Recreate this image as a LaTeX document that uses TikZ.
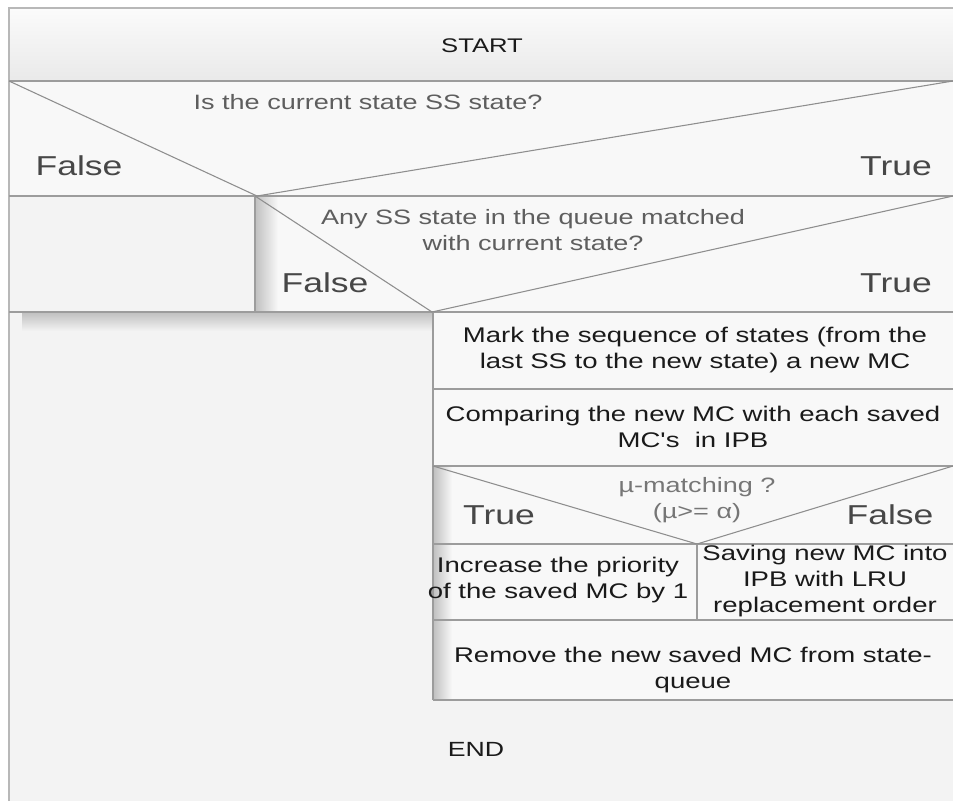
\documentclass[tikz,border=0pt]{standalone}
\usepackage{fontspec}
\setmainfont{Liberation Sans}
\newfontfamily\nsfont[FakeStretch=1.3]{Liberation Sans}
\definecolor{bgclr}{HTML}{F3F3F3}
\definecolor{boxclr}{HTML}{F8F8F8}
\definecolor{topclr}{HTML}{FBFBFB}
\definecolor{shadowclr}{HTML}{C2C2C2}
\definecolor{ruleclr}{HTML}{9C9C9C}
\definecolor{diagclr}{HTML}{8E8E8E}
\definecolor{frameclr}{HTML}{B8B8B8}
\definecolor{txtdark}{HTML}{1A1A1A}
\definecolor{txtgray}{HTML}{5E5E5E}
\definecolor{txtmid}{HTML}{474747}
\begin{document}
\begin{tikzpicture}[x=0.75pt,y=-0.75pt,
  rule/.style={draw=ruleclr,line width=1.1pt},
  diag/.style={draw=diagclr,line width=0.8pt},
  frame/.style={draw=frameclr,line width=1.5pt},
  boxtext/.style={font=\nsfont\fontsize{15.9}{19.5}\selectfont,text=txtdark,align=center,inner sep=0pt},
  question/.style={font=\nsfont\fontsize{15.6}{19.5}\selectfont,text=txtgray,align=center,inner sep=0pt},
  branch/.style={font=\nsfont\fontsize{20.5}{24}\selectfont,text=txtmid,inner sep=0pt},
  endtext/.style={font=\nsfont\fontsize{15.4}{18}\selectfont,text=txtdark,inner sep=0pt}]
\useasboundingbox (0,0) rectangle (953,801);
\fill[white] (0,0) rectangle (953,801);

% outer frame and background
\fill[bgclr] (9,8) rectangle (953,801);
\shade[top color=topclr,bottom color=bgclr!96!black] (9,8) rectangle (953,81);
\fill[boxclr] (9,81) rectangle (953,196);
\fill[bgclr] (9,196) rectangle (255,312);
\fill[boxclr] (255,196) rectangle (953,312);
\fill[boxclr] (433,312) rectangle (953,700);

% soft shadows
\shade[top color=shadowclr,bottom color=bgclr] (22,313) rectangle (433,331);
\shade[left color=shadowclr,right color=boxclr] (256,197) rectangle (278,311);
\shade[left color=shadowclr,right color=boxclr] (434,467) rectangle (452,699);

% frame edges
\draw[frame] (9,801) -- (9,8) -- (953,8);

% sequence rules
\draw[rule] (9,81) -- (953,81);
\draw[rule] (9,196) -- (953,196);
\draw[rule] (9,312) -- (953,312);
\draw[rule] (255,196) -- (255,312);
\draw[rule] (433,312) -- (433,700);
\draw[rule] (433,389) -- (953,389);
\draw[rule] (433,466) -- (953,466);
\draw[rule] (433,544) -- (953,544);
\draw[rule] (697,544) -- (697,620);
\draw[rule] (433,620) -- (953,620);
\draw[rule] (433,700) -- (953,700);

% decision diagonals
\draw[diag] (9,81) -- (257,196) -- (953,81);
\draw[diag] (255,196) -- (432,312) -- (953,196);
\draw[diag] (433,466) -- (697,544) -- (953,466);

% texts
\node[endtext,font=\nsfont\fontsize{14.8}{18}\selectfont] (start) at (482,46) {START};
\node[question] (q1) at (368,102) {Is the current state SS state?};
\node[branch] (f1) at (79,166) {False};
\node[branch] (t1) at (896,166) {True};
\node[question] (q2) at (533,230) {Any SS state in the queue matched\\with current state?};
\node[branch] (f2) at (325,283) {False};
\node[branch] (t2) at (896,283) {True};
\node[boxtext] (mark) at (695,350) {Mark the sequence of states (from the\\last SS to the new state) a new MC};
\node[boxtext] (comp) at (693,427) {Comparing the new MC with each saved\\MC's\ \ in IPB};
\node[question,text=txtgray!85!white] (q3) at (697,500) {µ-matching ?\\(µ>= α)};
\node[branch] (t3) at (499,515) {True};
\node[branch] (f3) at (890,515) {False};
\node[boxtext] (incr) at (558,580) {Increase the priority\\of the saved MC by 1};
\node[boxtext] (save) at (825,581) {Saving new MC into\\IPB with LRU\\replacement order};
\node[boxtext] (remove) at (693,670) {Remove the new saved MC from state-\\queue};
\node[endtext] (stop) at (476,749) {END};
\end{tikzpicture}
\end{document}
